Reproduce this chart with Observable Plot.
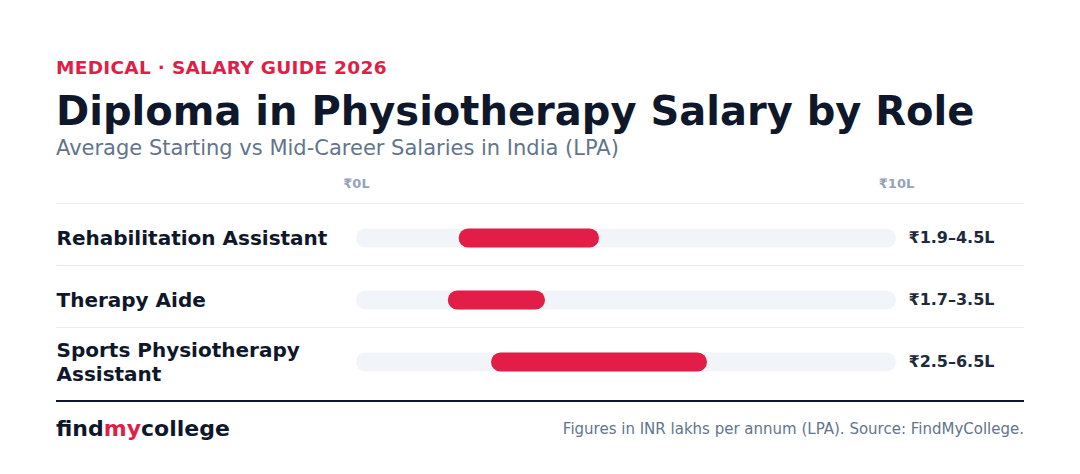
<!DOCTYPE html>
<html>
<head>
<meta charset="utf-8">
<script src="https://cdn.jsdelivr.net/npm/d3@7"></script>
<script src="https://cdn.jsdelivr.net/npm/@observablehq/plot@0.6"></script>
<style>
  html, body { margin: 0; padding: 0; background: #ffffff; }
  body { width: 1080px; height: 474px; position: relative; overflow: hidden; font-family: "DejaVu Sans", sans-serif; }
  .abs { position: absolute; white-space: nowrap; line-height: 1; }
  #kicker { left: 56px; top: 59px; font-size: 18.5px; font-weight: bold; color: #e11d48; letter-spacing: 0.3px; }
  #title { left: 56px; top: 91px; font-size: 40px; font-weight: bold; color: #0f172a; }
  #subtitle { left: 56px; top: 138px; font-size: 21px; color: #64748b; }
  #chart { position: absolute; left: 56px; top: 170px; }
  #rule { position: absolute; left: 56px; top: 400px; width: 968px; height: 2px; background: #0f172a; }
  #logo { left: 56px; top: 418px; font-size: 22px; font-weight: bold; color: #0f172a; }
  #logo span { color: #e11d48; }
  #caption { right: 56px; top: 421.5px; font-size: 15px; color: #64748b; }
</style>
</head>
<body>
<div class="abs" id="kicker">MEDICAL · SALARY GUIDE 2026</div>
<div class="abs" id="title">Diploma in Physiotherapy Salary by Role</div>
<div class="abs" id="subtitle">Average Starting vs Mid-Career Salaries in India (LPA)</div>
<div id="chart"></div>
<div id="rule"></div>
<div class="abs" id="logo">find<span>my</span>college</div>
<div class="abs" id="caption">Figures in INR lakhs per annum (LPA). Source: FindMyCollege.</div>
<script>
const roles = ["Rehabilitation Assistant", "Therapy Aide", "Sports Physiotherapy Assistant"];
const startSalary = [1.9, 1.7, 2.5];
const midSalary = [4.5, 3.5, 6.5];
const axisTicks = [0, 10];
const scaleMax = 10;

const rows = roles.map((role, i) => ({role, lo: startSalary[i], hi: midSalary[i]}));
const fmt = v => `₹${v}L`;

const chart = Plot.plot({
  width: 968,
  height: 228,
  marginTop: 0, marginBottom: 0, marginLeft: 0, marginRight: 0,
  style: {fontFamily: "DejaVu Sans, sans-serif", background: "transparent", overflow: "visible"},
  x: {domain: [0, scaleMax], range: [300, 840], axis: null},
  y: {type: "band", domain: roles, range: [37, 223], padding: 0, axis: null},
  marks: [
    Plot.ruleY(roles, {y: d => d, dy: -35, stroke: "#e9edf2", strokeWidth: 1}),
    Plot.text(axisTicks, {x: d => d, frameAnchor: "top", lineAnchor: "middle", dy: 13.5, text: d => fmt(d),
      fontSize: 13, fontWeight: "bold", fill: "#94a3b8"}),
    Plot.barX(rows, {y: "role", x1: 0, x2: scaleMax, fill: "#f1f5f9", insetTop: 21.5, insetBottom: 21.5, rx: 9.5}),
    Plot.barX(rows, {y: "role", x1: "lo", x2: "hi", fill: "#e11d48", insetTop: 21.5, insetBottom: 21.5, rx: 9.5}),
    Plot.text(rows, {y: "role", frameAnchor: "left", text: "role", lineWidth: 12.5, lineHeight: 1.2, dy: -1.5,
      textAnchor: "start", fontSize: 20, fontWeight: "bold", fill: "#0f172a"}),
    Plot.text(rows, {y: "role", x: scaleMax, dx: 12, dy: -1, text: d => `₹${d.lo}–${d.hi}L`,
      textAnchor: "start", fontSize: 16, fontWeight: "bold", fill: "#1e293b"})
  ]
});
document.getElementById("chart").appendChild(chart);
</script>
</body>
</html>
